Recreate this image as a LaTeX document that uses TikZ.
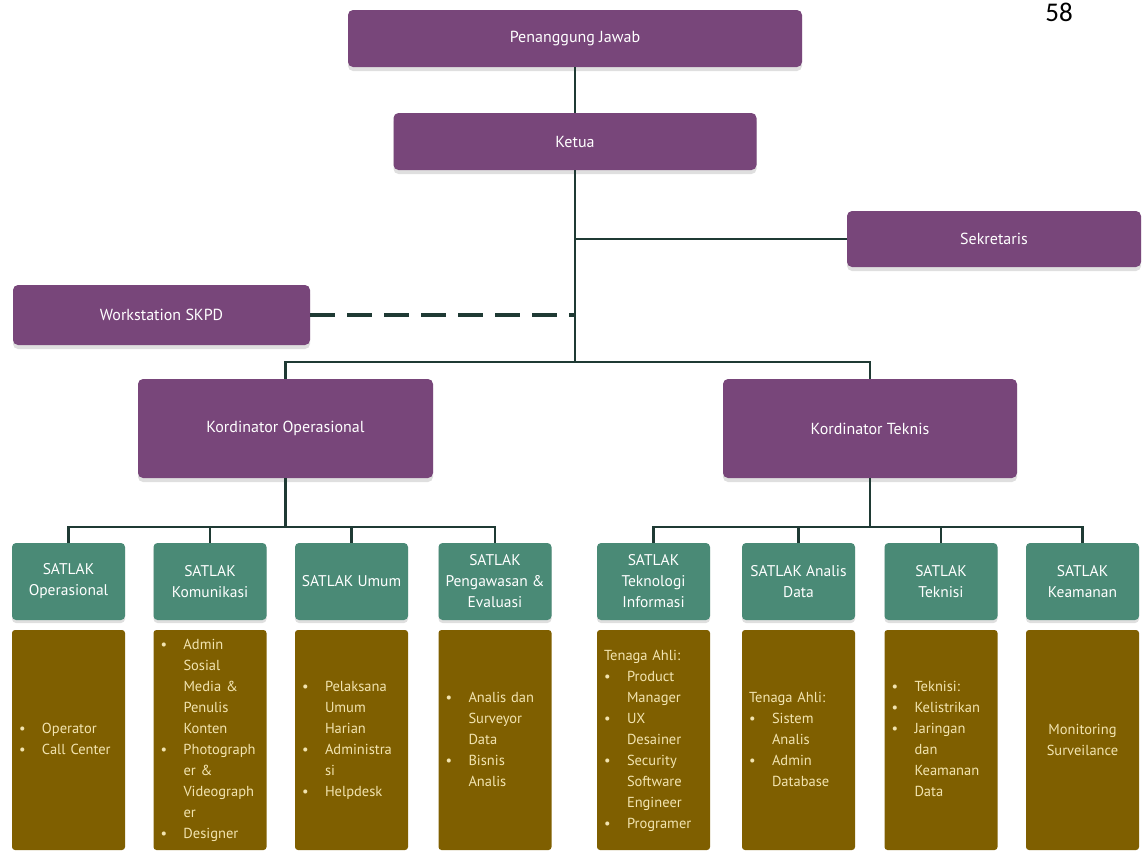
\documentclass[tikz,border=0pt]{standalone}
\usepackage{fontspec}
\setmainfont{PT Sans}
\newfontfamily\halfont{Carlito}
\usepackage{tikz}
\usetikzlibrary{shadows}

\definecolor{ungu}{HTML}{78467A}
\definecolor{hijau}{HTML}{4A8A76}
\definecolor{coklat}{HTML}{7F5F00}
\definecolor{krem}{HTML}{F2E4B0}
\definecolor{garis}{HTML}{1F3A34}

\newcommand{\daftar}[1]{\begin{tabular}{@{}p{23pt}@{}l@{}}#1\end{tabular}}

\tikzset{
  pbox/.style={fill=ungu, rounded corners=5pt, text=white, align=center,
    font=\fontsize{16}{21}\selectfont,
    drop shadow={shadow xshift=0pt, shadow yshift=-4pt, opacity=0.25}},
  gbox/.style={fill=hijau, rounded corners=4pt, text=white, align=center,
    minimum width=113pt, minimum height=77pt,
    font=\fontsize{15.5}{21}\selectfont,
    drop shadow={shadow xshift=0pt, shadow yshift=-3pt, opacity=0.25}},
  brownbox/.style={fill=coklat, rounded corners=3pt, text=krem,
    minimum width=113pt, minimum height=220pt, text width=99pt,
    inner xsep=7pt, align=left, font=\fontsize{14.5}{21}\selectfont},
  conn/.style={draw=garis, line width=2.2pt},
}

\begin{document}
\begin{tikzpicture}[x=1pt,y=-1pt,line cap=butt,line join=miter]
\useasboundingbox (0,0) rectangle (1142,852);

% pimpinan
\node[pbox, minimum width=454pt, minimum height=57pt] (pj) at (575,38.5) {Penanggung Jawab};
\node[pbox, minimum width=363pt, minimum height=57pt] (ketua) at (575,141.5) {Ketua};
\node[pbox, minimum width=294pt, minimum height=56pt] (sekre) at (994,239) {Sekretaris};
\node[pbox, minimum width=297pt, minimum height=60pt] (skpd) at (161.5,315) {Workstation SKPD};
\node[pbox, minimum width=295pt, minimum height=99pt] (kop) at (285.5,428.5) {Kordinator Operasional};
\node[pbox, minimum width=294pt, minimum height=99pt] (ktek) at (870,428.5) {Kordinator Teknis};
\node[font=\halfont\fontsize{27}{30}\selectfont] (hal) at (1059,12) {58};

% satlak
\node[gbox] (sop) at (68.5,581.5) {SATLAK\\Operasional};
\node[gbox] (skom) at (210,581.5) {SATLAK\\Komunikasi};
\node[gbox] (sumum) at (351.5,581.5) {SATLAK Umum};
\node[gbox] (speng) at (495,581.5) {SATLAK\\Pengawasan \&\\Evaluasi};
\node[gbox] (sti) at (653.5,581.5) {SATLAK\\Teknologi\\Informasi};
\node[gbox] (sad) at (798.5,581.5) {SATLAK Analis\\Data};
\node[gbox] (stek) at (941,581.5) {SATLAK\\Teknisi};
\node[gbox] (skeam) at (1082.5,581.5) {SATLAK\\Keamanan};

% rincian
\node[brownbox] (rop) at (68.5,740) {\daftar{\textbullet & Operator\\ \textbullet & Call Center}};
\node[brownbox] (rkom) at (210,740) {\daftar{\textbullet & Admin\\ & Sosial\\ & Media \&\\ & Penulis\\ & Konten\\
  \textbullet & Photograph\\ & er \&\\ & Videograph\\ & er\\ \textbullet & Designer}};
\node[brownbox] (rumum) at (351.5,740) {\daftar{\textbullet & Pelaksana\\ & Umum\\ & Harian\\
  \textbullet & Administra\\ & si\\ \textbullet & Helpdesk}};
\node[brownbox] (rpeng) at (495,740) {\daftar{\textbullet & Analis dan\\ & Surveyor\\ & Data\\
  \textbullet & Bisnis\\ & Analis}};
\node[brownbox] (rti) at (653.5,740) {\daftar{\multicolumn{2}{@{}l@{}}{Tenaga Ahli:}\\
  \textbullet & Product\\ & Manager\\ \textbullet & UX\\ & Desainer\\
  \textbullet & Security\\ & Software\\ & Engineer\\ \textbullet & Programer}};
\node[brownbox] (rad) at (798.5,740) {\daftar{\multicolumn{2}{@{}l@{}}{Tenaga Ahli:}\\
  \textbullet & Sistem\\ & Analis\\ \textbullet & Admin\\ & Database}};
\node[brownbox] (rtek) at (941,740) {\daftar{\textbullet & Teknisi:\\ \textbullet & Kelistrikan\\
  \textbullet & Jaringan\\ & dan\\ & Keamanan\\ & Data}};
\node[brownbox, align=center] (rkeam) at (1082.5,740) {Monitoring\\Surveilance};

% garis penghubung
\coordinate (busT) at (575,362);
\coordinate (busO) at (285.5,527);
\coordinate (busK) at (870,527);
\draw[conn] (pj) -- (ketua);
\draw[conn] (ketua) -- (busT);
\draw[conn] (sekre.west -| ketua.south) -- (sekre.west);
\draw[conn, line width=3.2pt, dash pattern=on 25pt off 12pt] (skpd.east) -- (skpd.east -| ketua.south);
\draw[conn] (kop.north) |- (busT) -| (ktek.north);
\draw[conn] (kop) -- (busO);
\draw[conn] (ktek) -- (busK);
\foreach \s in {sop,skom,sumum,speng}
  \draw[conn] (busO) -| (\s.north);
\foreach \s in {sti,sad,stek,skeam}
  \draw[conn] (busK) -| (\s.north);
\end{tikzpicture}
\end{document}
